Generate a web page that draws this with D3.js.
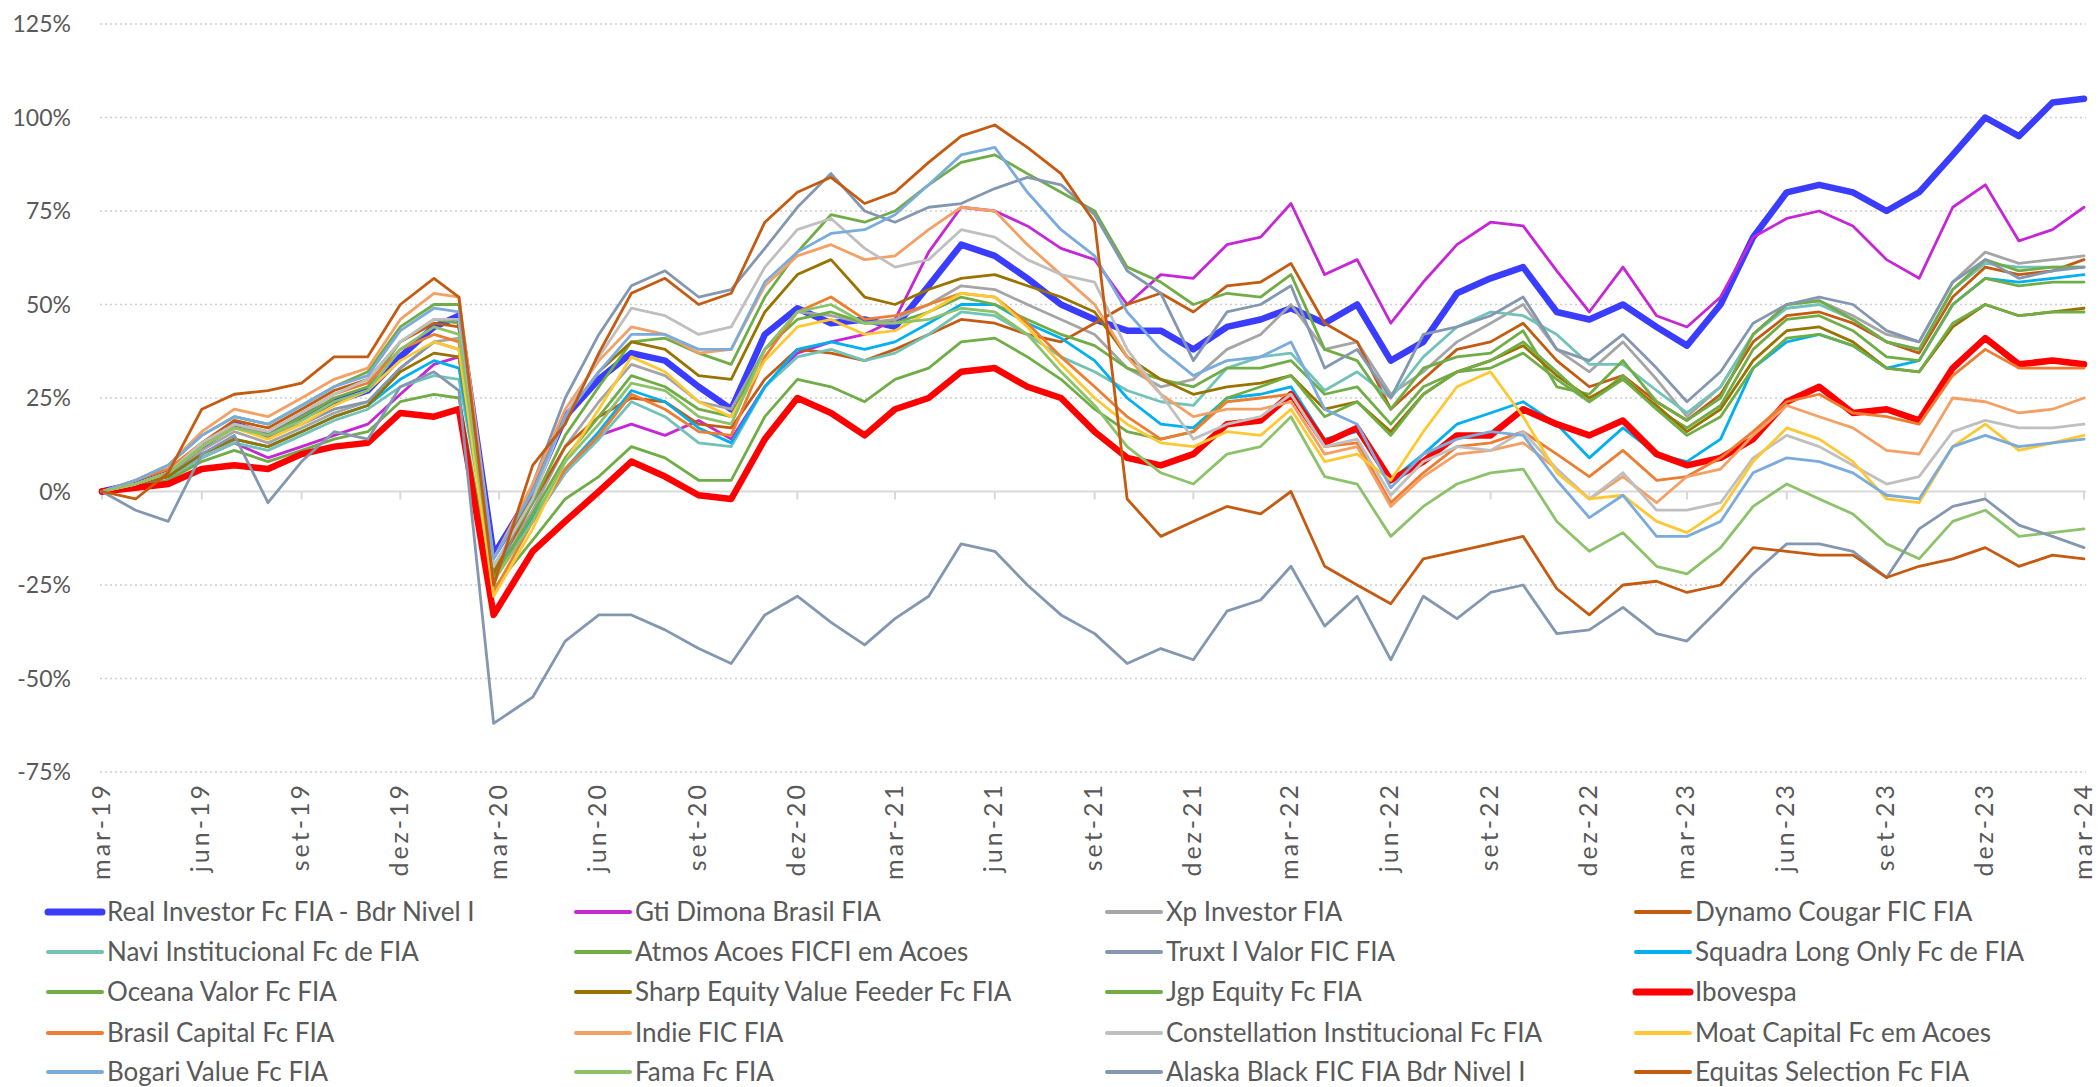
<!DOCTYPE html>
<html>
<head>
<meta charset="utf-8">
<script src="https://cdn.jsdelivr.net/npm/d3@7"></script>
<style>
  body { margin: 0; background: #fff; }
  svg { display: block; }
  text { font-family: Lato, "Open Sans", sans-serif; fill: #595959; }
</style>
</head>
<body>
<div id="chart"></div>
<script>
// observation dates (month ends, plus the Feb/Mar 2020 crash points)
const dates = [
  "2019-03-28","2019-04-28","2019-05-28","2019-06-28","2019-07-28","2019-08-28","2019-09-28","2019-10-28","2019-11-28","2019-12-28",
  "2020-01-28","2020-02-20","2020-03-23","2020-04-28","2020-05-28","2020-06-28","2020-07-28","2020-08-28","2020-09-28","2020-10-28","2020-11-28","2020-12-28",
  "2021-01-28","2021-02-28","2021-03-28","2021-04-28","2021-05-28","2021-06-28","2021-07-28","2021-08-28","2021-09-28","2021-10-28","2021-11-28","2021-12-28",
  "2022-01-28","2022-02-28","2022-03-28","2022-04-28","2022-05-28","2022-06-28","2022-07-28","2022-08-28","2022-09-28","2022-10-28","2022-11-28","2022-12-28",
  "2023-01-28","2023-02-28","2023-03-28","2023-04-28","2023-05-28","2023-06-28","2023-07-28","2023-08-28","2023-09-28","2023-10-28","2023-11-28","2023-12-28",
  "2024-01-28","2024-02-28","2024-03-28"
];

const yTicks = [-75, -50, -25, 0, 25, 50, 75, 100, 125];
const monthNames = ["jan","fev","mar","abr","mai","jun","jul","ago","set","out","nov","dez"];

// cumulative return, %
const realInvestor = [0,2,5,12,18,15,20,24,27,36,44, 47,-17, 0,20,30,37,35,28,22,42,49,
  45,46,44,55,66,63,57,50,46,43,43,38, 44,46,49,45,50,35,40,53,57,60,48,46,
  50,44,39,50,68,80,82,80,75,80,90,100, 95,104,105];
const gtiDimona = [0,1,3,9,13,9,12,15,18,26,34, 36,-22, -8,5,15,18,15,19,14,28,37,
  40,42,46,64,76,75,71,65,62,50,58,57, 66,68,77,58,62,45,56,66,72,71,59,48,
  60,47,44,52,68,73,75,71,62,57,76,82, 67,70,76];
const xpInvestor = [0,2,4,11,16,13,17,21,24,33,40, 41,-21, -5,12,24,34,31,24,22,38,48,
  47,45,46,50,55,54,50,46,42,33,28,30, 38,42,50,38,40,26,32,40,45,50,38,32,
  40,30,20,28,42,50,51,47,42,40,56,64, 61,62,63];
const dynamoCougar = [0,2,5,13,19,17,22,27,30,40,45, 44,-22, -3,12,20,25,24,18,17,30,38,
  37,35,38,42,46,45,42,40,45,50,53,48, 55,56,61,45,40,22,30,38,40,45,35,28,
  31,24,19,26,40,47,48,45,40,37,52,60, 58,59,62];
const naviInstitucional = [0,1,3,9,13,11,15,19,22,28,31, 30,-21, -8,5,14,24,20,13,12,28,36,
  38,35,37,42,48,47,42,36,32,27,24,23, 33,36,37,27,32,25,36,44,48,47,42,34,
  34,27,21,28,42,49,50,46,40,38,54,61, 60,60,60];
const atmosAcoes = [0,3,7,15,20,18,23,28,32,44,50, 50,-20, -3,15,28,40,41,37,34,52,64,
  74,72,75,82,88,90,85,80,75,60,56,50, 53,52,58,38,35,22,33,36,37,43,28,26,
  35,24,19,25,42,50,51,46,40,38,54,62, 59,60,60];
const truxtValor = [0,1,4,12,18,15,18,22,24,33,40, 38,-25, 2,25,42,55,59,52,54,65,76,
  85,75,72,76,77,81,84,82,74,59,53,35, 48,50,55,33,38,25,42,44,47,52,38,35,
  42,33,24,32,45,50,52,50,43,40,56,62, 57,59,60];
const squadraLongOnly = [0,2,4,10,14,12,16,20,23,30,35, 33,-22, -7,6,16,27,24,17,13,28,38,
  40,38,40,45,50,50,45,41,35,25,18,17, 25,26,28,14,16,3,10,18,21,24,18,9,
  17,10,8,14,33,40,42,39,33,35,50,57, 56,57,58];
const oceanaValor = [0,2,5,12,17,15,20,25,28,40,46, 45,-23, -6,9,20,31,28,22,20,38,46,
  48,45,45,48,52,50,46,42,39,33,30,28, 33,33,35,26,28,18,28,32,33,37,30,24,
  31,22,17,23,38,46,47,43,36,35,50,57, 55,56,56];
const sharpEquity = [0,2,4,10,14,12,16,20,23,32,37, 36,-22, 0,20,32,40,38,31,30,48,58,
  62,52,50,54,57,58,55,52,48,36,30,26, 28,29,31,22,24,16,26,32,35,39,31,25,
  30,23,16,22,35,43,44,40,33,32,44,50, 47,48,49];
const jgpEquity = [0,1,3,8,11,8,11,14,16,24,26, 25,-26, -13,-2,4,12,9,3,3,20,30,
  28,24,30,33,40,41,36,30,22,16,14,16, 25,28,31,20,24,15,26,32,35,40,32,24,
  30,22,15,20,33,41,42,39,33,32,45,50, 47,48,48];
const ibovespa = [0,1,2,6,7,6,10,12,13,21,20, 22,-33, -16,-8,0,8,4,-1,-2,14,25,
  21,15,22,25,32,33,28,25,16,9,7,10, 18,19,26,13,17,3,8,15,15,22,18,15,
  19,10,7,9,14,24,28,21,22,19,33,41, 34,35,34];
const brasilCapital = [0,3,6,13,18,16,21,26,29,38,42, 40,-27, -8,6,15,26,22,16,15,36,48,
  52,46,47,50,53,52,45,36,28,20,14,16, 24,25,26,12,13,-3,5,12,13,16,10,4,
  11,3,4,9,16,24,26,21,20,18,31,38, 33,33,33];
const indieFic = [0,3,7,16,22,20,25,30,33,46,53, 52,-18, 2,22,35,44,42,37,38,55,63,
  66,62,63,70,76,75,66,58,50,36,26,20, 22,22,24,10,12,-4,4,10,11,13,6,-2,
  4,-3,4,6,15,23,20,17,11,10,25,24, 21,22,25];
const constellation = [0,2,5,13,18,16,21,26,30,40,46, 46,-20, -2,20,36,49,47,42,44,60,70,
  73,65,60,62,70,68,62,58,56,38,26,14, 18,20,26,12,14,-1,8,12,11,16,6,-2,
  5,-5,-5,-3,9,15,12,7,2,4,16,19, 17,17,18];
const moatCapital = [0,2,5,12,17,14,18,23,27,35,40, 38,-28, -10,8,22,36,32,24,20,35,44,
  46,42,43,48,53,52,44,34,25,18,13,12, 16,15,22,8,10,3,16,28,32,20,5,-2,
  -1,-8,-11,-5,8,17,14,8,-2,-3,12,18, 11,13,15];
const bogariValue = [0,3,7,15,20,18,23,28,31,43,49, 48,-18, 0,20,32,42,42,38,38,56,64,
  69,70,74,82,90,92,80,70,63,48,38,31, 35,36,40,22,18,1,10,14,16,15,3,-7,
  -1,-12,-12,-8,5,9,8,5,-1,-2,12,15, 12,13,14];
const famaFc = [0,2,5,12,17,15,19,24,27,38,44, 42,-24, -8,8,18,29,27,20,18,38,48,
  50,45,45,46,49,48,42,32,23,12,5,2, 10,12,20,4,2,-12,-4,2,5,6,-8,-16,
  -11,-20,-22,-15,-4,2,-2,-6,-14,-18,-8,-5, -12,-11,-10];
const alaskaBlack = [0,-5,-8,10,15,-3,8,16,14,28,32, 27,-62, -55,-40,-33,-33,-37,-42,-46,-33,-28,
  -35,-41,-34,-28,-14,-16,-25,-33,-38,-46,-42,-45, -32,-29,-20,-36,-28,-45,-28,-34,-27,-25,-38,-37,
  -31,-38,-40,-31,-22,-14,-14,-16,-23,-10,-4,-2, -9,-12,-15];
const equitasSelection = [0,-2,5,22,26,27,29,36,36,50,57, 52,-25, 7,18,37,53,57,50,53,72,80,
  84,77,80,88,95,98,92,85,72,-2,-12,-8, -4,-6,0,-20,-25,-30,-18,-16,-14,-12,-26,-33,
  -25,-24,-27,-25,-15,-16,-17,-17,-23,-20,-18,-15, -20,-17,-18];

const seriesNames = [
  "Real Investor Fc FIA - Bdr Nivel I", "Gti Dimona Brasil FIA", "Xp Investor FIA", "Dynamo Cougar FIC FIA",
  "Navi Institucional Fc de FIA", "Atmos Acoes FICFI em Acoes", "Truxt I Valor FIC FIA", "Squadra Long Only Fc de FIA",
  "Oceana Valor Fc FIA", "Sharp Equity Value Feeder Fc FIA", "Jgp Equity Fc FIA", "Ibovespa",
  "Brasil Capital Fc FIA", "Indie FIC FIA", "Constellation Institucional Fc FIA", "Moat Capital Fc em Acoes",
  "Bogari Value Fc FIA", "Fama Fc FIA", "Alaska Black FIC FIA Bdr Nivel I", "Equitas Selection Fc FIA"
];
const seriesValues = [
  realInvestor, gtiDimona, xpInvestor, dynamoCougar,
  naviInstitucional, atmosAcoes, truxtValor, squadraLongOnly,
  oceanaValor, sharpEquity, jgpEquity, ibovespa,
  brasilCapital, indieFic, constellation, moatCapital,
  bogariValue, famaFc, alaskaBlack, equitasSelection
];
const seriesColors = [
  "#3a3dff", "#c526d6", "#a5a5a5", "#c55a11",
  "#72c2b8", "#70ad47", "#8497b0", "#00b0f0",
  "#70ad47", "#997300", "#70ad47", "#ff0000",
  "#ed7d31", "#f4a064", "#bfbfbf", "#ffc832",
  "#7aabdd", "#8cc26a", "#8497b0", "#c55a11"
];
const thick = ["Real Investor Fc FIA - Bdr Nivel I", "Ibovespa"];

const width = 2099, height = 1087;
const parse = d3.timeParse("%Y-%m-%d");
const start = parse("2019-03-28"), end = parse("2024-03-28");

const svg = d3.select("#chart").append("svg")
    .attr("width", width)
    .attr("height", height);

const x = d3.scaleTime().domain([start, end]).range([102, 2084]);
const y = d3.scaleLinear().domain([-75, 125]).range([772, 24]);

// grid
svg.append("g")
    .selectAll("line")
    .data(yTicks.filter(d => d !== 0))
    .join("line")
    .attr("x1", 100).attr("x2", 2086)
    .attr("y1", d => y(d)).attr("y2", d => y(d))
    .attr("stroke", "#cfcfcf")
    .attr("stroke-width", 1.5)
    .attr("stroke-dasharray", "2,3");

svg.append("g")
    .selectAll("text")
    .data(yTicks)
    .join("text")
    .attr("x", 71)
    .attr("y", d => y(d))
    .attr("dy", "0.35em")
    .attr("text-anchor", "end")
    .style("font-size", "23px")
    .text(d => d + "%");

// x axis on the zero line
const tickDates = d3.range(0, 21).map(i => d3.timeMonth.offset(start, i * 3));
svg.append("line")
    .attr("x1", 100).attr("x2", 2086)
    .attr("y1", y(0)).attr("y2", y(0))
    .attr("stroke", "#d9d9d9")
    .attr("stroke-width", 2);

svg.append("g")
    .selectAll("line")
    .data(tickDates)
    .join("line")
    .attr("x1", d => x(d)).attr("x2", d => x(d))
    .attr("y1", y(0)).attr("y2", y(0) + 8)
    .attr("stroke", "#d9d9d9")
    .attr("stroke-width", 2);

svg.append("g")
    .selectAll("text")
    .data(tickDates)
    .join("text")
    .attr("transform", d => `translate(${x(d)},782) rotate(-90)`)
    .attr("dy", "0.3em")
    .attr("text-anchor", "end")
    .style("font-size", "25px")
    .style("letter-spacing", "3px")
    .text(d => monthNames[d.getMonth()] + "-" + d3.timeFormat("%y")(d));

// lines
const parsedDates = dates.map(parse);
const line = d3.line()
    .x((d, i) => x(parsedDates[i]))
    .y(d => y(d));

svg.append("g")
    .attr("fill", "none")
    .attr("stroke-linejoin", "round")
    .attr("stroke-linecap", "round")
    .selectAll("path")
    .data(seriesValues)
    .join("path")
    .attr("stroke", (d, i) => seriesColors[i])
    .attr("stroke-width", (d, i) => thick.includes(seriesNames[i]) ? 6.5 : 2.8)
    .attr("d", line);

// legend, 4 columns
const legendX = [48, 576, 1107, 1636];
const legendY = [912, 952, 992, 1033, 1072];
const legend = svg.append("g")
    .selectAll("g")
    .data(seriesNames)
    .join("g")
    .attr("transform", (d, i) => `translate(${legendX[i % 4]},${legendY[Math.floor(i / 4)]})`);

legend.append("line")
    .attr("x1", 0).attr("x2", 54)
    .attr("stroke", (d, i) => seriesColors[i])
    .attr("stroke-width", d => thick.includes(d) ? 7 : 4)
    .attr("stroke-linecap", "round");

legend.append("text")
    .attr("x", 59)
    .attr("dy", "0.35em")
    .style("font-size", "26px")
    .text(d => d);
</script>
</body>
</html>
